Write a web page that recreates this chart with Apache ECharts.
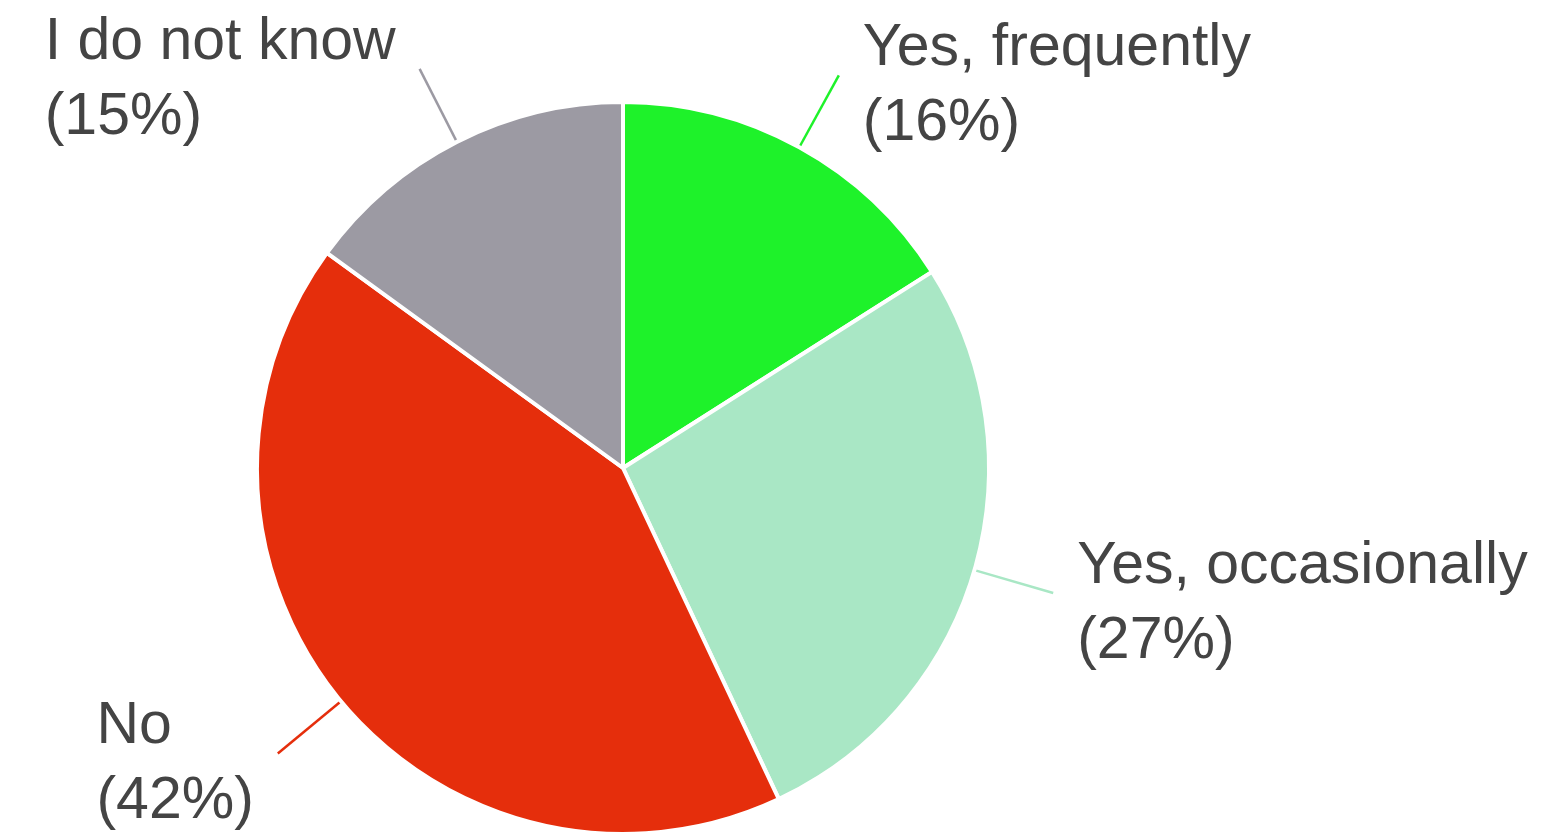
<!DOCTYPE html>
<html>
<head>
<meta charset="utf-8">
<title>Survey responses</title>
<script src="https://cdn.jsdelivr.net/npm/echarts@6/dist/echarts.min.js"></script>
<style>
  html, body { margin: 0; padding: 0; background: #ffffff; }
  #chart { width: 1545px; height: 833px; }
</style>
</head>
<body>
<div id="chart"></div>
<script>
// Answer categories, clockwise from 12 o'clock
const categories = ['Yes, frequently', 'Yes, occasionally', 'No', 'I do not know'];
// Share of respondents (%)
const shares = [16, 27, 42, 15];
// Slice colours
const sliceColors = ['#1ef22a', '#a9e7c5', '#e52e0c', '#9c9aa3'];

const chart = echarts.init(document.getElementById('chart'), null, { renderer: 'canvas' });

chart.setOption({
  backgroundColor: '#ffffff',
  animation: false,
  series: [{
    type: 'pie',
    center: [623, 468],
    radius: [0, 366],
    startAngle: 90,
    clockwise: true,
    avoidLabelOverlap: false,
    percentPrecision: 0,
    data: categories.map((name, i) => ({
      name: name,
      value: shares[i],
      itemStyle: { color: sliceColors[i] }
    })),
    itemStyle: { borderColor: '#ffffff', borderWidth: 4 },
    label: {
      show: true,
      position: 'outside',
      distanceToLabelLine: 24,
      // extra top padding drops the two-line block a little below the line end
      padding: [22, 0, 0, 0],
      formatter: '{t|{b}}\n{t|({d}%)}',
      rich: {
        t: {
          align: 'left',
          fontFamily: '"Liberation Sans", Arial, sans-serif',
          fontSize: 59,
          lineHeight: 75,
          color: '#444444'
        }
      }
    },
    labelLine: {
      show: true,
      length: 82,
      length2: 0,
      smooth: false,
      lineStyle: { width: 2.5 }
    },
    emphasis: { disabled: true }
  }]
});
</script>
</body>
</html>
